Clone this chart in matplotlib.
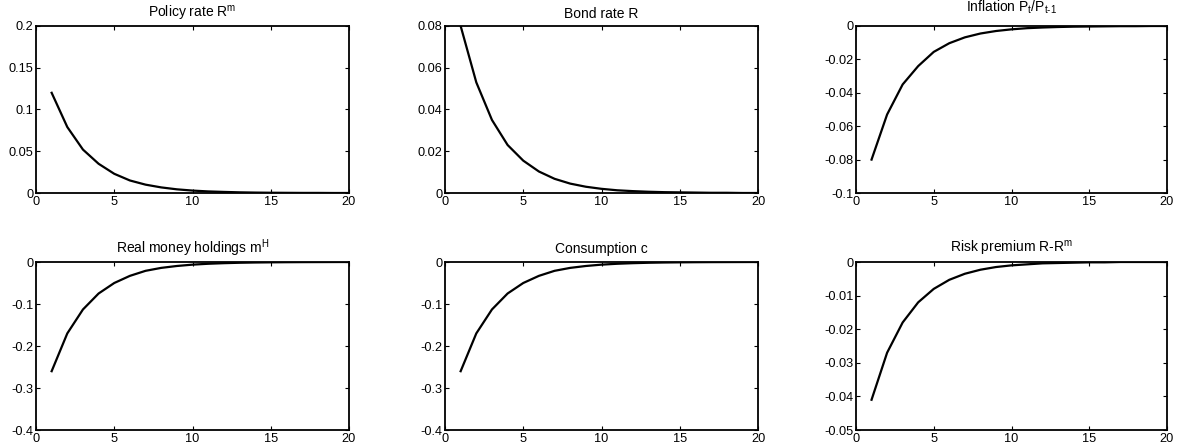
import matplotlib
matplotlib.use("Agg")
import matplotlib.pyplot as plt

plt.rcParams["font.family"] = ["Liberation Sans", "DejaVu Sans"]
plt.rcParams["mathtext.fontset"] = "custom"
plt.rcParams["mathtext.rm"] = "Liberation Sans"
plt.rcParams["mathtext.it"] = "Liberation Sans"

periods = list(range(1, 21))

policy_rate = [0.120, 0.079, 0.052, 0.035, 0.023, 0.015, 0.010, 0.0067, 0.0044, 0.0029,
               0.0019, 0.0013, 0.0008, 0.0005, 0.0003, 0.0002, 0.0001, 0.0001, 0.0, 0.0]
bond_rate = [0.080, 0.053, 0.035, 0.023, 0.0155, 0.0103, 0.0068, 0.0045, 0.0030, 0.0020,
             0.0013, 0.0009, 0.0006, 0.0004, 0.0003, 0.0002, 0.0001, 0.0001, 0.0, 0.0]
inflation = [-0.080, -0.053, -0.035, -0.024, -0.0155, -0.0103, -0.0068, -0.0045, -0.0030, -0.0020,
             -0.0013, -0.0009, -0.0006, -0.0004, -0.0003, -0.0002, -0.0001, -0.0001, 0.0, 0.0]
money = [-0.260, -0.170, -0.113, -0.075, -0.050, -0.033, -0.021, -0.014, -0.0095, -0.0063,
         -0.0042, -0.0028, -0.0018, -0.0012, -0.0008, -0.0005, -0.0003, -0.0002, -0.0001, 0.0]
consumption = [-0.260, -0.170, -0.113, -0.075, -0.050, -0.033, -0.021, -0.014, -0.0095, -0.0063,
               -0.0042, -0.0028, -0.0018, -0.0012, -0.0008, -0.0005, -0.0003, -0.0002, -0.0001, 0.0]
risk_premium = [-0.041, -0.027, -0.018, -0.012, -0.008, -0.0053, -0.0035, -0.0023, -0.0015, -0.0010,
                -0.0007, -0.0004, -0.0003, -0.0002, -0.0001, -0.0001, 0.0, 0.0, 0.0, 0.0]

titles = [r"Policy rate R$^{\mathrm{m}}$", "Bond rate R", r"Inflation P$_{\mathrm{t}}$/P$_{\mathrm{t\text{-}1}}$",
          r"Real money holdings m$^{\mathrm{H}}$", "Consumption c", r"Risk premium R-R$^{\mathrm{m}}$"]
series = [policy_rate, bond_rate, inflation, money, consumption, risk_premium]
ylims = [(0, 0.2), (0, 0.08), (-0.1, 0), (-0.4, 0), (-0.4, 0), (-0.05, 0)]
yticks = [[0, 0.05, 0.1, 0.15, 0.2], [0, 0.02, 0.04, 0.06, 0.08],
          [-0.1, -0.08, -0.06, -0.04, -0.02, 0], [-0.4, -0.3, -0.2, -0.1, 0],
          [-0.4, -0.3, -0.2, -0.1, 0], [-0.05, -0.04, -0.03, -0.02, -0.01, 0]]
yticklabels = [["0", "0.05", "0.1", "0.15", "0.2"], ["0", "0.02", "0.04", "0.06", "0.08"],
               ["-0.1", "-0.08", "-0.06", "-0.04", "-0.02", "0"], ["-0.4", "-0.3", "-0.2", "-0.1", "0"],
               ["-0.4", "-0.3", "-0.2", "-0.1", "0"], ["-0.05", "-0.04", "-0.03", "-0.02", "-0.01", "0"]]

W, H = 1183, 448
# axes boxes in pixels: left, top, right, bottom
boxes = [(36, 26, 349, 193), (445, 26, 758, 193), (856, 26, 1167, 193),
         (36, 262, 349, 430), (445, 262, 758, 430), (856, 262, 1167, 430)]
# gap (pt) between axes top and title baseline
title_pads = [5.8, 5.8, 10.5, 6.5, 6.5, 6.5]

fig = plt.figure(figsize=(W / 100, H / 100), dpi=100)
for i in range(6):
    l, t, r, b = boxes[i]
    ax = fig.add_axes([l / W, 1 - b / H, (r - l) / W, (b - t) / H])
    ax.plot(periods, series[i], color="black", lw=1.6)
    ax.set_xlim(0, 20)
    ax.set_ylim(*ylims[i])
    ax.set_xticks([0, 5, 10, 15, 20])
    ax.set_yticks(yticks[i])
    ax.set_yticklabels(yticklabels[i])
    ax.tick_params(direction="in", top=True, right=True, length=3, width=0.8,
                   labelsize=9.2, pad=2, colors="black")
    for s in ax.spines.values():
        s.set_linewidth(1.3)
    ax.set_title(titles[i], fontsize=10, pad=title_pads[i], va="baseline")

fig.savefig("out.png", dpi=100)
